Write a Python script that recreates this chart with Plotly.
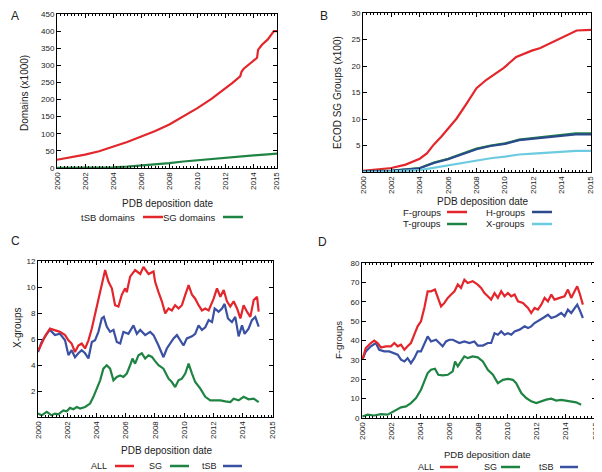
import plotly.graph_objects as go

# ---- data ----
# x values are in axis units; on every panel the last tick ("2015") sits at the right edge
a_end = 2015.67
bcd_end = 2016.07

a_tsb_x = [2000, 2001, 2002, 2003, 2004, 2005, 2006, 2007, 2008, 2009, 2010, 2011, 2012, 2012.5,
           2013.05, 2013.15, 2013.3, 2013.7, 2014.0, 2014.25, 2014.32, 2014.6, 2015.0, 2015.3, 2015.45, 2015.67]
a_tsb_y = [24, 31, 39, 49, 62, 76, 92, 108, 127, 150, 175, 202, 232, 249,
           268, 282, 290, 304, 314, 322, 345, 360, 375, 392, 400, 400]
a_sg_x = [2000, 2002, 2004, 2005, 2006, 2007, 2008, 2009, 2010, 2011, 2012, 2013, 2014, 2015, 2015.67]
a_sg_y = [0.5, 1, 2, 4, 7, 10, 14, 19, 23, 27, 31, 34, 37, 40, 42]

b_x = [2000, 2002, 2003, 2004, 2004.5, 2005, 2005.5, 2006, 2006.6, 2007.3, 2008, 2008.7, 2009.9,
       2010.8, 2011.9, 2012.5, 2014, 2015.06, 2016.07]
b_f = [0.2, 0.75, 1.4, 2.5, 3.5, 5.2, 6.6, 8.2, 10.1, 12.9, 15.8, 17.4, 19.6,
       21.7, 22.9, 23.4, 25.4, 26.7, 26.8]
b_x2 = [2000, 2002, 2004, 2005, 2006, 2007, 2008, 2009, 2010, 2011, 2012, 2013, 2014, 2015, 2016.07]
b_t = [0.1, 0.25, 0.75, 1.8, 2.5, 3.5, 4.4, 5.0, 5.4, 6.1, 6.4, 6.7, 7.0, 7.3, 7.3]
b_h = [0.1, 0.2, 0.7, 1.7, 2.4, 3.4, 4.3, 4.9, 5.3, 6.0, 6.3, 6.6, 6.9, 7.1, 7.1]
b_xg = [0.0, 0.1, 0.35, 0.8, 1.2, 1.7, 2.2, 2.6, 2.9, 3.3, 3.45, 3.6, 3.8, 4.0, 4.0]

c_all_x = [2000.02, 2000.48, 2000.82, 2001.16, 2001.5, 2001.85, 2002.08, 2002.3, 2002.53, 2002.76, 2002.99,
           2003.22, 2003.45, 2003.68, 2003.9, 2004.13, 2004.36, 2004.59, 2004.82, 2005.05, 2005.27, 2005.5,
           2005.73, 2005.96, 2006.07, 2006.3, 2006.64, 2006.99, 2007.21, 2007.56, 2007.9, 2008.01, 2008.24,
           2008.47, 2008.7, 2008.93, 2009.15, 2009.38, 2009.61, 2009.84, 2010.07, 2010.3, 2010.53, 2010.75,
           2010.98, 2011.21, 2011.44, 2011.67, 2012.01, 2012.24, 2012.47, 2012.7, 2012.92, 2013.15, 2013.38,
           2013.61, 2013.84, 2014.06, 2014.29, 2014.52, 2014.75, 2014.98, 2015.09]
c_all_y = [5.1, 6.2, 6.8, 6.7, 6.55, 6.3, 5.9, 5.65, 5.0, 5.5, 5.65,
           5.27, 5.9, 6.8, 7.84, 9.1, 10.15, 11.3, 10.4, 9.9, 8.6, 8.5,
           9.4, 9.9, 9.6, 10.8, 11.3, 11.0, 11.55, 11.0, 11.2, 10.4, 9.6,
           8.9, 7.97, 8.35, 8.2, 8.6, 8.35, 8.6, 9.4, 10.15, 9.4, 9.1,
           8.6, 8.2, 8.35, 8.2, 9.1, 9.9, 9.25, 9.77, 8.9, 8.5, 8.9,
           8.35, 7.58, 8.6, 8.1, 7.7, 9.0, 9.25, 8.1]
c_tsb_x = [2000.0, 2000.25, 2000.6, 2000.82, 2001.16, 2001.5, 2001.85, 2002.08, 2002.3, 2002.53, 2002.76,
           2002.99, 2003.22, 2003.45, 2003.68, 2003.9, 2004.13, 2004.36, 2004.5, 2004.7, 2004.93, 2005.16,
           2005.39, 2005.62, 2005.84, 2006.18, 2006.53, 2006.76, 2006.99, 2007.33, 2007.67, 2007.9, 2008.24,
           2008.58, 2008.81, 2009.04, 2009.27, 2009.5, 2009.72, 2009.95, 2010.18, 2010.53, 2010.75, 2010.98,
           2011.21, 2011.44, 2011.67, 2011.9, 2012.08, 2012.35, 2012.58, 2012.76, 2012.99, 2013.26, 2013.49,
           2013.72, 2013.95, 2014.13, 2014.4, 2014.63, 2014.86, 2015.09]
c_tsb_y = [5.0, 5.77, 6.4, 6.7, 6.3, 6.4, 5.9, 4.76, 5.14, 4.6, 4.9,
           5.14, 4.9, 4.5, 5.77, 5.9, 6.55, 7.58, 7.7, 6.95, 6.55, 6.7,
           5.77, 5.65, 6.55, 6.4, 7.05, 6.4, 6.7, 6.3, 6.55, 6.3, 5.5,
           4.6, 5.27, 5.65, 6.05, 6.3, 5.9, 5.5, 6.05, 6.2, 6.4, 7.05,
           6.7, 6.9, 7.45, 7.3, 8.35, 8.1, 8.35, 8.7, 7.58, 7.3, 7.7,
           6.2, 7.05, 6.4, 6.8, 7.45, 7.7, 6.95]
c_sg_x = [2000.0, 2000.25, 2000.6, 2000.93, 2001.16, 2001.39, 2001.73, 2001.96, 2002.19, 2002.42, 2002.65,
          2002.88, 2003.22, 2003.56, 2003.79, 2004.02, 2004.25, 2004.47, 2004.7, 2004.93, 2005.16, 2005.39,
          2005.62, 2005.84, 2006.07, 2006.3, 2006.46, 2006.64, 2006.87, 2007.1, 2007.33, 2007.56, 2007.79,
          2008.01, 2008.24, 2008.58, 2008.93, 2009.15, 2009.38, 2009.61, 2009.84, 2010.07, 2010.3, 2010.53,
          2010.75, 2011.1, 2011.44, 2011.78, 2012.12, 2012.47, 2012.81, 2013.15, 2013.38, 2013.72, 2014.06,
          2014.4, 2014.75, 2015.09]
c_sg_y = [0.26, 0.13, 0.4, 0.13, 0.26, 0.2, 0.5, 0.44, 0.7, 0.6, 0.77,
          0.65, 0.77, 1.03, 1.55, 2.18, 2.82, 3.72, 3.98, 3.72, 2.82, 3.08,
          3.2, 3.08, 3.34, 3.98, 4.5, 4.1, 4.75, 4.9, 4.5, 4.75, 4.62,
          4.3, 3.98, 3.72, 2.95, 2.69, 2.3, 2.82, 2.95, 3.34, 4.1, 3.34,
          2.69, 2.18, 1.55, 1.28, 1.28, 1.28, 1.2, 1.15, 1.41, 1.28, 1.55,
          1.36, 1.41, 1.15]

d_all_x = [2000.03, 2000.26, 2000.61, 2000.84, 2001.07, 2001.3, 2001.64, 2001.99, 2002.22, 2002.45, 2002.68,
           2002.91, 2003.13, 2003.36, 2003.59, 2003.82, 2004.05, 2004.28, 2004.51, 2004.74, 2005.01, 2005.2,
           2005.43, 2005.66, 2005.89, 2006.12, 2006.35, 2006.58, 2006.8, 2007.03, 2007.26, 2007.6, 2007.95,
           2008.18, 2008.41, 2008.64, 2008.87, 2009.1, 2009.33, 2009.56, 2009.79, 2010.02, 2010.25, 2010.48,
           2010.71, 2011.05, 2011.4, 2011.62, 2011.85, 2012.08, 2012.31, 2012.54, 2012.77, 2013.0, 2013.22,
           2013.57, 2013.91, 2014.14, 2014.37, 2014.6, 2014.78, 2014.94, 2015.17]
d_all_y = [30.1, 36.1, 38.7, 39.9, 38.7, 36.4, 37.0, 37.0, 38.7, 37.0, 37.8,
           35.2, 37.0, 38.7, 43.0, 47.3, 49.9, 56.8, 65.4, 65.4, 66.3, 62.0,
           57.6, 59.4, 62.0, 63.7, 65.4, 68.9, 67.1, 71.4, 69.7, 70.6, 68.8,
           67.1, 64.5, 62.8, 61.1, 64.5, 62.0, 65.4, 62.8, 64.5, 62.8, 63.7,
           60.2, 59.4, 56.8, 54.2, 56.8, 55.9, 58.5, 62.0, 60.2, 63.7, 61.1,
           62.0, 62.8, 66.3, 62.0, 65.4, 68.0, 64.5, 58.5]
d_tsb_x = [2000.03, 2000.26, 2000.61, 2000.95, 2001.18, 2001.53, 2001.87, 2002.22, 2002.45, 2002.68, 2002.91,
           2003.13, 2003.36, 2003.59, 2003.82, 2004.05, 2004.28, 2004.51, 2004.74, 2005.08, 2005.31, 2005.54,
           2005.77, 2006.0, 2006.23, 2006.46, 2006.69, 2007.03, 2007.37, 2007.72, 2007.95, 2008.3, 2008.64,
           2008.87, 2009.1, 2009.33, 2009.56, 2009.79, 2010.02, 2010.25, 2010.48, 2010.82, 2011.17, 2011.4,
           2011.62, 2011.85, 2012.08, 2012.43, 2012.77, 2013.0, 2013.34, 2013.68, 2013.91, 2014.14, 2014.37,
           2014.6, 2014.78, 2014.94, 2015.17]
d_tsb_y = [30.1, 34.4, 37.0, 38.7, 35.2, 34.4, 34.4, 33.5, 32.7, 30.1, 29.2,
           30.9, 28.3, 30.9, 34.4, 34.4, 38.7, 42.1, 39.5, 40.4, 38.7, 37.0,
           39.5, 40.4, 40.4, 39.5, 38.7, 39.5, 38.7, 39.5, 37.4, 37.4, 38.7,
           38.7, 43.8, 43.0, 44.7, 43.0, 43.8, 43.0, 44.7, 45.6, 47.3, 46.4,
           47.3, 49.0, 49.9, 51.6, 53.3, 51.6, 52.5, 54.2, 52.5, 55.9, 54.2,
           56.8, 58.5, 55.9, 51.6]
d_sg_x = [2000.03, 2000.38, 2000.84, 2001.3, 2001.76, 2001.99, 2002.33, 2002.68, 2003.02, 2003.36, 2003.71,
          2004.05, 2004.28, 2004.51, 2004.74, 2005.01, 2005.24, 2005.54, 2005.89, 2006.23, 2006.39, 2006.58,
          2006.8, 2007.03, 2007.26, 2007.6, 2007.95, 2008.3, 2008.64, 2008.99, 2009.33, 2009.68, 2010.02,
          2010.36, 2010.59, 2010.94, 2011.28, 2011.62, 2011.97, 2012.31, 2012.65, 2013.0, 2013.34, 2013.68,
          2014.03, 2014.37, 2014.71, 2015.05]
d_sg_y = [0.8, 1.7, 1.3, 2.0, 1.7, 2.6, 4.3, 5.5, 6.0, 7.7, 10.3,
          14.6, 18.9, 23.2, 24.9, 25.4, 22.3, 22.0, 22.3, 24.1, 29.2, 26.6,
          29.2, 31.8, 30.9, 31.8, 31.3, 29.2, 24.9, 22.3, 18.0, 19.7, 20.2,
          19.7, 18.0, 12.9, 10.3, 8.6, 7.7, 8.6, 9.5, 10.0, 9.0, 9.3,
          9.0, 8.6, 8.1, 6.9]

year_ticks = [2000, 2002, 2004, 2006, 2008, 2010, 2012, 2014]
year_labels = ["2000", "2002", "2004", "2006", "2008", "2010", "2012", "2014"]

RED = "#e3262b"
GREEN = "#1f8443"
BLUE = "#3950a3"
DBLUE = "#2b4a8c"
CYAN = "#6ccbe0"
FONT = "Liberation Sans"
TXT = "#222222"

# the page puts the plot 8px in from the top-left corner, so the figure is
# 8px smaller and every screen position is mapped back by that offset
OFF = 8
W, H = 602 - OFF, 472 - OFF


def px_x(v):
    return (v - OFF) / W


def px_y(v):
    return 1 - (v - OFF) / H


fig = go.Figure()


def add_line(x, y, color, axis):
    fig.add_trace(go.Scatter(x=x, y=y, mode="lines", line=dict(color=color, width=2.2),
                             xaxis="x" + axis, yaxis="y" + axis, showlegend=False, hoverinfo="skip"))


add_line(a_tsb_x, a_tsb_y, RED, "")
add_line(a_sg_x, a_sg_y, GREEN, "")
add_line(b_x, b_f, RED, "2")
add_line(b_x2, b_t, GREEN, "2")
add_line(b_x2, b_h, DBLUE, "2")
add_line(b_x2, b_xg, CYAN, "2")
add_line(c_sg_x, c_sg_y, GREEN, "3")
add_line(c_tsb_x, c_tsb_y, BLUE, "3")
add_line(c_all_x, c_all_y, RED, "3")
add_line(d_sg_x, d_sg_y, GREEN, "4")
add_line(d_tsb_x, d_tsb_y, BLUE, "4")
add_line(d_all_x, d_all_y, RED, "4")


def xaxis(left, right, end, anchor):
    return dict(domain=[px_x(left), px_x(right)], range=[2000, end], anchor=anchor, automargin=False,
                tickmode="array", tickvals=year_ticks + [end - 0.01], ticktext=year_labels + ["2015"],
                tickangle=-90, tickfont=dict(size=8, color=TXT, family=FONT),
                showline=True, linecolor="black", linewidth=1, mirror="allticks",
                ticks="inside", ticklen=4, tickcolor="black", showgrid=False, zeroline=False,
                minor=dict(ticks="inside", ticklen=2, tick0=2000, dtick=0.25, tickcolor="black"))


def yaxis(top, bottom, rng, vals, anchor):
    return dict(domain=[px_y(bottom), px_y(top)], range=rng, anchor=anchor, automargin=False,
                tickmode="array", tickvals=vals, ticktext=[str(v) for v in vals],
                tickfont=dict(size=8, color=TXT, family=FONT),
                showline=True, linecolor="black", linewidth=1, mirror="allticks",
                ticks="inside", ticklen=4, tickcolor="black", showgrid=False, zeroline=False)


fig.update_layout(
    width=W, height=H, margin=dict(l=0, r=0, t=0, b=0, autoexpand=False),
    paper_bgcolor="white", plot_bgcolor="white", showlegend=False,
    font=dict(family=FONT, color=TXT),
    xaxis=xaxis(57, 277, a_end, "y"),
    yaxis=yaxis(14, 168, [0, 450], list(range(0, 451, 50)), "x"),
    xaxis2=xaxis(363, 591, bcd_end, "y2"),
    yaxis2=yaxis(13, 172, [0, 30], [5, 10, 15, 20, 25, 30], "x2"),
    xaxis3=xaxis(38, 273, bcd_end, "y3"),
    yaxis3=yaxis(261, 417, [0, 12], [2, 4, 6, 8, 10, 12], "x3"),
    xaxis4=xaxis(362, 596, bcd_end, "y4"),
    yaxis4=yaxis(263, 418, [0, 80], list(range(0, 81, 10)), "x4"),
)


def text(x, y, s, size=9.5, anchor="center", angle=0):
    fig.add_annotation(x=px_x(x), y=px_y(y), xref="paper", yref="paper", text=s, showarrow=False,
                       xanchor=anchor, yanchor="middle", textangle=angle,
                       font=dict(size=size, color=TXT, family=FONT))


def swatch(x0, x1, y, color):
    fig.add_shape(type="line", xref="paper", yref="paper", x0=px_x(x0), x1=px_x(x1),
                  y0=px_y(y), y1=px_y(y), line=dict(color=color, width=2.5))


# panel letters (kept just inside the drawable area)
text(9, 16, "A", size=12, anchor="left")
text(318, 16, "B", size=12, anchor="left")
text(9, 241, "C", size=12, anchor="left")
text(316, 242, "D", size=12, anchor="left")

# axis titles
text(168, 203, "PDB deposition date", size=10)
text(483, 201, "PDB deposition date", size=10)
text(167, 450, "PDB deposition date", size=10)
text(487, 454, "PDB deposition date", size=9.5)
text(24, 93, "Domains (x1000)", size=10, angle=-90)
text(337, 93, "ECOD SG Groups (x100)", size=10, angle=-90)
text(17, 328, "X-groups", size=10, angle=-90)
text(338, 340, "F-groups", size=9.5, angle=-90)

# legends (text before line sample)
text(137, 217, "tSB domains", anchor="right")
swatch(143, 163, 217, RED)
text(218, 217, "SG domains", anchor="right")
swatch(223, 243, 217, GREEN)

text(443, 212, "F-groups", anchor="right")
swatch(447, 467, 212, RED)
text(527, 212, "H-groups", anchor="right")
swatch(532, 552, 212, DBLUE)
text(443, 224, "T-groups", anchor="right")
swatch(447, 467, 224, GREEN)
text(527, 224, "X-groups", anchor="right")
swatch(532, 552, 224, CYAN)

text(109, 466, "ALL", size=9, anchor="right")
swatch(115, 134, 466, RED)
text(164, 466, "SG", size=9, anchor="right")
swatch(170, 189, 466, GREEN)
text(219, 466, "tSB", size=9, anchor="right")
swatch(223, 242, 466, BLUE)

text(436, 467, "ALL", size=9, anchor="right")
swatch(440, 458, 467, RED)
text(499, 467, "SG", size=9, anchor="right")
swatch(501, 520, 467, GREEN)
text(556, 467, "tSB", size=9, anchor="right")
swatch(560, 578, 467, BLUE)

fig.write_html("out.html")
